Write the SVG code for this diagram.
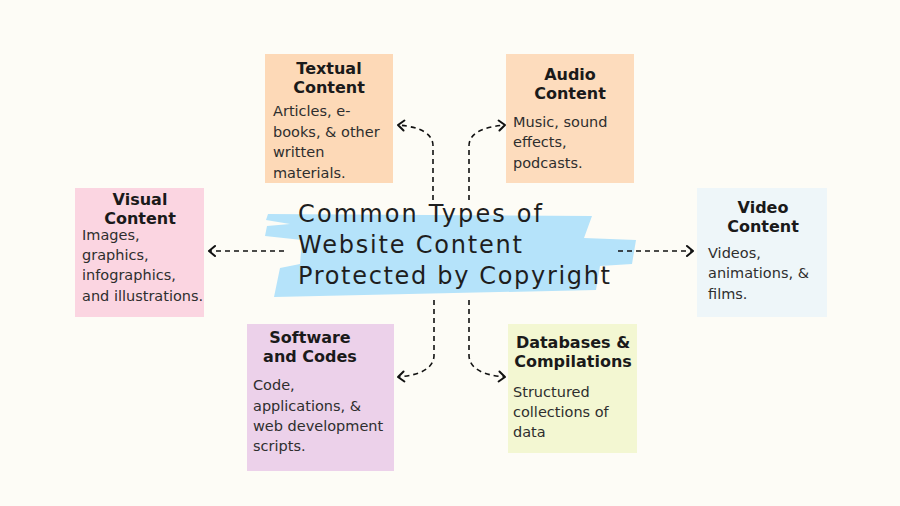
<svg xmlns="http://www.w3.org/2000/svg" width="900" height="506" viewBox="0 0 900 506">
<defs>
<marker id="chev" markerUnits="userSpaceOnUse" markerWidth="12" markerHeight="12" refX="7" refY="5" orient="auto" overflow="visible">
<path d="M1,0 L7,5 L1,10" fill="none" stroke="#111" stroke-width="2" stroke-linecap="round" stroke-linejoin="round"/>
</marker>
<style>
.h{font-family:"DejaVu Sans",sans-serif;font-weight:bold;font-size:16px;fill:#1a1a1a;text-anchor:middle}
.b{font-family:"DejaVu Sans",sans-serif;font-size:14.5px;fill:#2e2e2e}
.t{font-family:"DejaVu Sans",sans-serif;font-size:24px;fill:#1e1e1e}
.c{fill:none;stroke:#111;stroke-width:1.6;stroke-dasharray:5 4}
</style>
</defs>
<rect width="900" height="506" fill="#fdfcf6"/>
<g id="center">
<polygon points="268,214 592,216 584,238 636,240 632,264 600,266 596,290 274,297 280,268 300,264 302,240 265,236 267,226 290,224 266,220" fill="#b5e3fa"/>
<text class="t" x="298" y="222" textLength="244" lengthAdjust="spacing">Common Types of</text>
<text class="t" x="298" y="253" textLength="224" lengthAdjust="spacing">Website Content</text>
<text class="t" x="298" y="284" textLength="312" lengthAdjust="spacing">Protected by Copyright</text>
</g>
<g id="connectors">
<path class="c" d="M433,200 L433,146 Q433,128 398,125" marker-end="url(#chev)"/>
<path class="c" d="M469,200 L469,146 Q469,128 505,125" marker-end="url(#chev)"/>
<path class="c" d="M284,251 L209,251" marker-end="url(#chev)"/>
<path class="c" d="M618,251 L693,251" marker-end="url(#chev)"/>
<path class="c" d="M434,300 L434,356 Q433,374 398,377" marker-end="url(#chev)"/>
<path class="c" d="M469,300 L469,356 Q470,374 505,377" marker-end="url(#chev)"/>
</g>
<g id="textual">
<rect x="265" y="54" width="128" height="129" fill="#fdd9b7"/>
<text class="h" x="329" y="73.5">Textual</text>
<text class="h" x="329" y="92.5">Content</text>
<text class="b" x="273" y="116">Articles, e-</text>
<text class="b" x="273" y="137">books, &amp; other</text>
<text class="b" x="273" y="157">written</text>
<text class="b" x="273" y="178">materials.</text>
</g>
<g id="audio">
<rect x="506" y="54" width="128" height="129" fill="#fddcbd"/>
<text class="h" x="570" y="79.5">Audio</text>
<text class="h" x="570" y="98.5">Content</text>
<text class="b" x="513" y="127">Music, sound</text>
<text class="b" x="513" y="147">effects,</text>
<text class="b" x="513" y="168">podcasts.</text>
</g>
<g id="visual">
<rect x="75" y="188" width="129" height="129" fill="#fbd5e1"/>
<text class="h" x="140" y="205">Visual</text>
<text class="h" x="140" y="224">Content</text>
<text class="b" x="82" y="240">Images,</text>
<text class="b" x="82" y="260">graphics,</text>
<text class="b" x="82" y="280">infographics,</text>
<text class="b" x="82" y="301">and illustrations.</text>
</g>
<g id="video">
<rect x="697" y="188" width="130" height="129" fill="#eef6f9"/>
<text class="h" x="763" y="212.5">Video</text>
<text class="h" x="763" y="231.5">Content</text>
<text class="b" x="708" y="258">Videos,</text>
<text class="b" x="708" y="278">animations, &amp;</text>
<text class="b" x="708" y="299">films.</text>
</g>
<g id="software">
<rect x="247" y="324" width="147" height="147" fill="#ecd1ea"/>
<text class="h" x="310" y="342.5">Software</text>
<text class="h" x="310" y="361.5">and Codes</text>
<text class="b" x="253" y="390">Code,</text>
<text class="b" x="253" y="411">applications, &amp;</text>
<text class="b" x="253" y="431">web development</text>
<text class="b" x="253" y="451">scripts.</text>
</g>
<g id="databases">
<rect x="508" y="324" width="129" height="129" fill="#f3f7d2"/>
<text class="h" x="573" y="347.5">Databases &amp;</text>
<text class="h" x="573" y="366.5">Compilations</text>
<text class="b" x="513" y="397">Structured</text>
<text class="b" x="513" y="417">collections of</text>
<text class="b" x="513" y="437">data</text>
</g>
</svg>
